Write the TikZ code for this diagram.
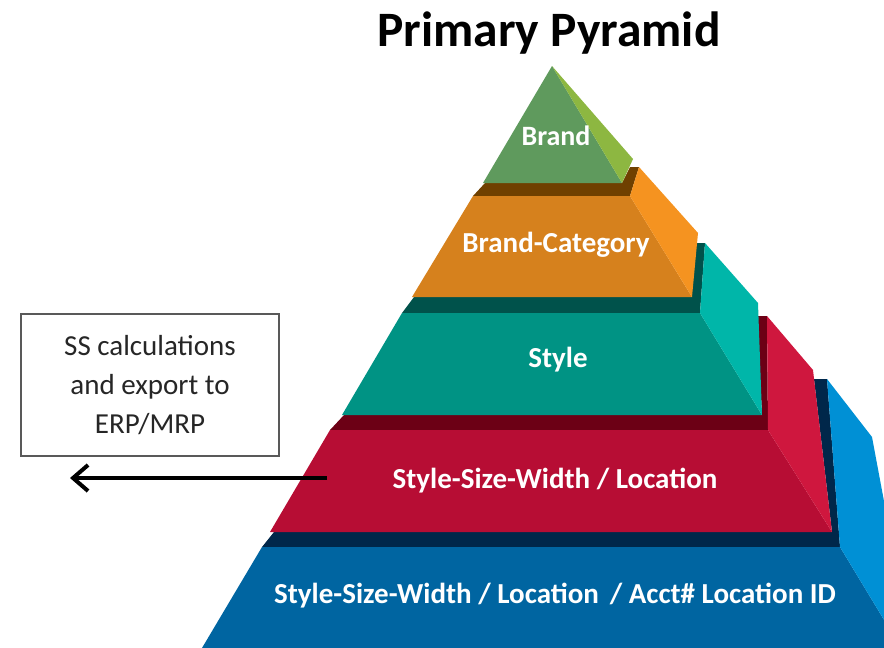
\documentclass[tikz,border=0pt]{standalone}
\usepackage{fontspec}
\setmainfont{Carlito}
\usetikzlibrary{arrows.meta}
\definecolor{greenF}{HTML}{5F9A5D}
\definecolor{greenS}{HTML}{8DB741}
\definecolor{brownD}{HTML}{6F4000}
\definecolor{orangeF}{HTML}{D6811D}
\definecolor{orangeS}{HTML}{F59320}
\definecolor{tealD}{HTML}{00524B}
\definecolor{tealF}{HTML}{009384}
\definecolor{tealS}{HTML}{00B6A9}
\definecolor{redD}{HTML}{6C0015}
\definecolor{redF}{HTML}{B70D34}
\definecolor{redS}{HTML}{CF173E}
\definecolor{navyD}{HTML}{00274A}
\definecolor{blueF}{HTML}{0065A1}
\definecolor{blueS}{HTML}{0090D5}
\definecolor{boxline}{HTML}{595959}
\definecolor{boxtext}{HTML}{262626}
\begin{document}
\begin{tikzpicture}[x=1pt,y=-1pt,
  lbl/.style={text=white,font=\bfseries\fontsize{29}{34}\selectfont,inner sep=0pt,anchor=base},
  lblsmall/.style={lbl,font=\bfseries\fontsize{28}{33}\selectfont},
  titlestyle/.style={text=black,font=\bfseries\fontsize{49.5}{58}\selectfont,inner sep=0pt,anchor=base},
  notebox/.style={draw=boxline,line width=1.2pt,fill=white,minimum width=258pt,minimum height=142pt,
    align=center,text=boxtext,font=\fontsize{29}{39}\selectfont,inner sep=0pt},
  exportarrow/.style={line width=4pt,-{Straight Barb[length=15pt,width=26pt]}}]
\useasboundingbox (0,0) rectangle (884,648);
\begin{scope}
\clip (0,0) rectangle (884,648);
% bottom layer (blue)
\fill[navyD] (262,547) -- (274,532) -- (832,532) -- (814,379) -- (827,379) -- (840,547) -- cycle;
\fill[blueF] (262,547) -- (840,547) -- (901,648) -- (202,648) -- cycle;
\fill[blueS] (827,379) -- (872,437) -- (895,560) -- (901,648) -- (840,547) -- cycle;
% red layer
\fill[redD] (330,430) -- (344,415) -- (762,415) -- (757,316) -- (767,316) -- (768,430) -- cycle;
\fill[redF] (330,430) -- (768,430) -- (832,532) -- (270,532) -- cycle;
\fill[redS] (767,316) -- (813,370) -- (832,532) -- (768,430) -- cycle;
% teal layer
\fill[tealD] (402,313) -- (414,297) -- (692,297) -- (693,243) -- (705,243) -- (700,313) -- cycle;
\fill[tealF] (402,313) -- (700,313) -- (762,415) -- (342,415) -- cycle;
\fill[tealS] (705,243) -- (758,303) -- (762,415) -- (700,313) -- cycle;
% orange layer
\fill[brownD] (473,196) -- (485,183) -- (622,183) -- (630,167) -- (639,167) -- (630,196) -- cycle;
\fill[orangeF] (473,196) -- (630,196) -- (692,297) -- (412,297) -- cycle;
\fill[orangeS] (639,167) -- (698,233) -- (692,297) -- (630,196) -- cycle;
% green top
\fill[greenF] (552,66) -- (622,183) -- (483,183) -- cycle;
\fill[greenS] (552,66) -- (633,159) -- (622,183) -- cycle;
\end{scope}
% labels
\node[titlestyle] (title) at (549,46) {Primary Pyramid};
\node[lblsmall] (brand) at (556,145) {Brand};
\node[lbl] (brandcat) at (556,252) {Brand-Category};
\node[lbl] (style) at (558,367) {Style};
\node[lbl] (ssw) at (555,488) {Style-Size-Width / Location};
\node[lbl] (sswl) at (555,603) {Style-Size-Width / Location\hspace{0.15em} / Acct\# Location ID};
% note box and arrow
\node[notebox] (ssbox) at (150,385) {SS calculations\\and export to\\ERP/MRP};
\coordinate (arrstart) at (327,478);
\coordinate (arrend) at (70,478);
\draw[exportarrow] (arrstart) -- (arrend);
\end{tikzpicture}
\end{document}
